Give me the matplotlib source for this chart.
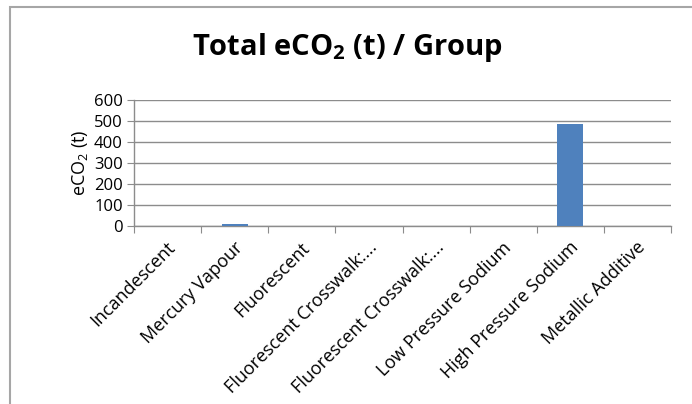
import matplotlib
matplotlib.use('Agg')
import matplotlib.pyplot as plt
from matplotlib.patches import Rectangle
import matplotlib.transforms as mtransforms
import numpy as np

plt.rcParams['font.family'] = ['Open Sans', 'DejaVu Sans']
plt.rcParams['mathtext.default'] = 'regular'

groups = ['Incandescent', 'Mercury Vapour', 'Fluorescent', 'Fluorescent Crosswalk:...',
          'Fluorescent Crosswalk:...', 'Low Pressure Sodium', 'High Pressure Sodium',
          'Metallic Additive']
eco2 = [0, 8, 0, 0, 0, 0, 486, 0]
yticks = [0, 100, 200, 300, 400, 500, 600]

grid_col = '#8c8c8c'

fig = plt.figure(figsize=(6.92, 4.04), dpi=100)
# outer chart frame (only left/top visible)
fig.add_artist(Rectangle((10/692, -0.2), 1.5, (404-7)/404 + 0.2, transform=fig.transFigure,
                         fill=False, edgecolor='#a6a6a6', lw=1.5))

ax = fig.add_axes([134/692, 1 - 226/404, (671-134)/692, (226-100)/404])
x = np.arange(len(groups))
ax.bar(x, eco2, width=0.39, color='#4f81bd', zorder=3)

ax.set_xlim(-0.5, len(groups) - 0.5)
ax.set_ylim(0, 600)
ax.set_yticks(yticks)
ax.yaxis.grid(True, color=grid_col, lw=1)
ax.set_axisbelow(True)
for s in ['top', 'right']:
    ax.spines[s].set_visible(False)
for s in ['left', 'bottom']:
    ax.spines[s].set_color(grid_col)
    ax.spines[s].set_linewidth(1)

# category ticks sit between the groups
ax.set_xticks(np.arange(len(groups) + 1) - 0.5)
ax.set_xticklabels([])
ax.tick_params(axis='x', which='major', length=5, color=grid_col, direction='out')
ax.set_xticks(x, minor=True)
ax.set_xticklabels(groups, minor=True, rotation=45, ha='right', rotation_mode='anchor',
                   fontsize=13)
ax.tick_params(axis='x', which='minor', length=0, pad=9)
shift = mtransforms.ScaledTranslation(-1/100, 0, fig.dpi_scale_trans)
for lab in ax.xaxis.get_minorticklabels():
    lab.set_transform(lab.get_transform() + shift)
ax.tick_params(axis='y', length=5, color=grid_col, labelsize=12, pad=3)

ax.set_ylabel('eCO$_2$ (t)', fontsize=13, labelpad=3)
fig.text(347/692, 1 - 48/404, 'Total eCO$_2$ (t) / Group', ha='center', va='center',
         fontsize=21, fontweight='bold')

fig.savefig('out.png', dpi=100)
